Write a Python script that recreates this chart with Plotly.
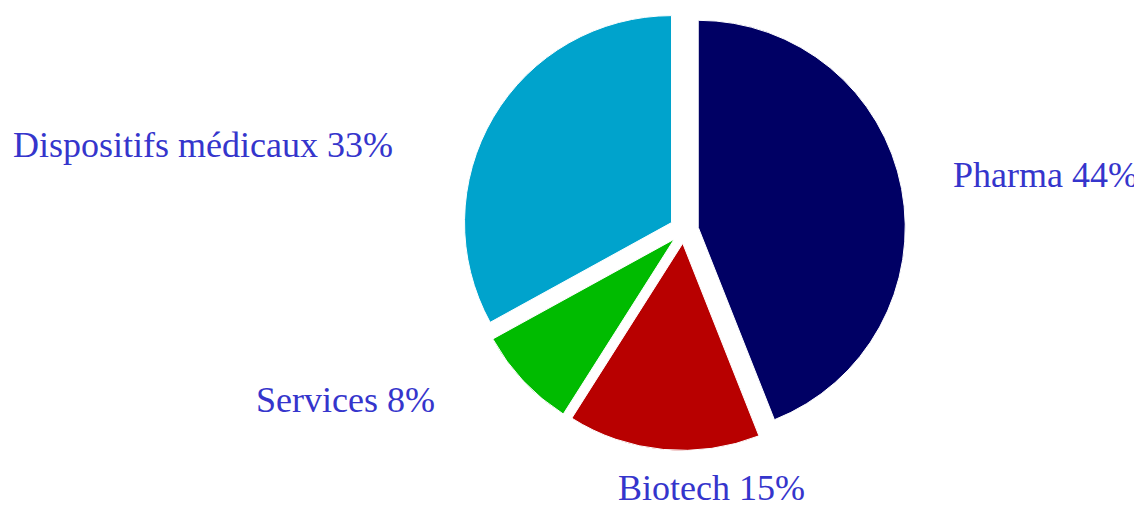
import plotly.graph_objects as go

labels = ["Pharma", "Biotech", "Services", "Dispositifs médicaux"]
values = [44, 15, 8, 33]
colors = ["#000064", "#b80000", "#00bb00", "#00a3cc"]
pulls = [0.07, 0.065, 0.065, 0.07]

W, H = 1142, 506
cx, cy, r = 676, 222, 207
rmax = r * (1 + max(pulls))

fig = go.Figure(go.Pie(
    labels=labels,
    values=values,
    sort=False,
    direction="clockwise",
    rotation=0,
    pull=pulls,
    textinfo="none",
    hoverinfo="label+percent",
    marker=dict(colors=colors, line=dict(color="white", width=1)),
    domain=dict(x=[(cx - rmax) / W, (cx + rmax) / W],
                y=[max(0, (H - cy - rmax) / H), min(1, (H - cy + rmax) / H)]),
    showlegend=False,
))

# label positions (pixels from top-left, left anchor, vertical middle)
label_pos = {
    "Pharma": (943, 167),
    "Biotech": (608, 480),
    "Services": (246, 392),
    "Dispositifs médicaux": (3, 137),
}
for lab, val in zip(labels, values):
    px, py = label_pos[lab]
    fig.add_annotation(
        x=px / W, y=1 - py / H, xref="paper", yref="paper",
        xanchor="left", yanchor="middle", showarrow=False,
        text=f"{lab} {val}%",
        font=dict(family="Liberation Serif, Times New Roman, serif", size=36, color="#3535cc"),
    )

fig.update_layout(
    width=W, height=H,
    margin=dict(l=0, r=0, t=0, b=0),
    paper_bgcolor="white", plot_bgcolor="white",
)
fig.write_html("out.html")
